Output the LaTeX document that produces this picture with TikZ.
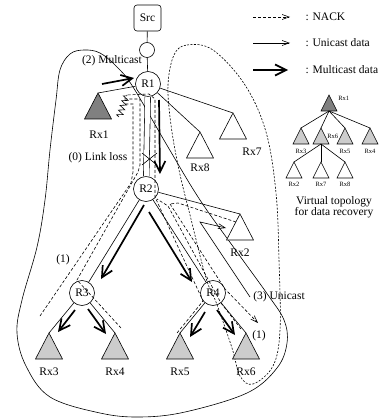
\documentclass[tikz,border=0pt]{standalone}
\usepackage{fontspec}
\setmainfont{Liberation Serif}
\usepackage{xcolor}
\usetikzlibrary{arrows.meta,decorations.pathmorphing}

\definecolor{rxdark}{gray}{0.5}
\definecolor{rxlight}{gray}{0.8}

% receiver triangle: name, apex, fill
\newcommand{\rxtri}[3]{\coordinate (#1) at (#2);
  \filldraw[fill=#3] (#1) -- ++(-13.5,26) -- ++(27,0) -- cycle;}
% small triangle of the virtual topology
\newcommand{\vtri}[3]{\coordinate (#1) at (#2);
  \path (#1) ++(0,16) coordinate (#1-b);
  \filldraw[fill=#3] (#1) -- ++(-8,16) -- ++(16,0) -- cycle;}

\begin{document}
\begin{tikzpicture}[x=1pt,y=-1pt,line width=0.6pt,
  every node/.style={font=\fontsize{11.5pt}{11.5pt}\selectfont},
  router/.style={draw,circle,minimum size=25pt,inner sep=0pt},
  srcbox/.style={draw,rounded corners=3pt,minimum width=27pt,minimum height=26pt,inner sep=0pt},
  vlabel/.style={font=\fontsize{6.5pt}{7pt}\selectfont,inner sep=1pt},
  mcast/.style={-{Straight Barb[length=11pt,width=11pt]},line width=1.7pt},
  ucast/.style={-{Straight Barb[length=7pt,width=5pt]}},
  nack/.style={dash pattern=on 3pt off 2pt},
  nackarrow/.style={nack,-{Straight Barb[length=7pt,width=5pt]}},
  zoneline/.style={dash pattern=on 2pt off 1.5pt}
]
\useasboundingbox (0,0) rectangle (380,419);

% recovery zones
\draw plot[smooth cycle,tension=0.6] coordinates {(133,87) (168,147) (200,200) (237,252) (268,295)
  (284,320) (287,343) (277,368) (247,393) (185,412) (140,417) (100,413) (50,397) (26,366)
  (17,333) (22,300) (37,247) (45,200) (50,150) (56,100) (60,70) (70,54) (84,50) (100,53) (117,67)};
\draw[zoneline] plot[smooth cycle,tension=0.6] coordinates {(174,55) (187,45) (213,50) (245,85)
  (266,132) (276,193) (279,260) (280,330) (273,366) (253,384) (240,376) (232,348) (216,302)
  (206,278) (190,215) (179,170) (171,125) (168,85)};

% routers
\node[srcbox] (src) at (147.5,18) {Src};
\node[draw,circle,minimum size=15pt,inner sep=0pt] (hop) at (147,50) {};
\node[router] (R1) at (148,84) {R1};
\node[router] (R2) at (146,189) {R2};
\node[router] (R3) at (82,293) {R3};
\node[router] (R4) at (213,293) {R4};

% receivers
\rxtri{rx1}{98,93}{rxdark}
\rxtri{rx3}{49,333}{rxlight}
\rxtri{rx4}{115,333}{rxlight}
\rxtri{rx5}{180,333}{rxlight}
\rxtri{rx6}{246,333}{rxlight}
\rxtri{rx7}{233,113}{white}
\rxtri{rx8}{200,132}{white}
\rxtri{rx2}{240,214}{white}

% links
\draw (src) -- (hop) -- (R1);
\draw[double distance=5pt] (R1) -- (R2);
\draw (R1) -- (rx1);
\draw (R1) -- (rx7);
\draw (R1) -- (rx8);
\draw (R2) -- (R3);
\draw (R2) -- (R4);
\draw (R2) -- (rx2);
\draw (R3) -- (rx3);
\draw (R3) -- (rx4);
\draw (R4) -- (rx5);
\draw (R4) -- (rx6);

% link loss
\draw (142,153) -- (157,165) (142,165) -- (157,153);
\draw[decorate,decoration={zigzag,segment length=5pt,amplitude=3pt}] (119,117) -- (127,95);

% NACKs
\draw[nack] (40,316) -- (131,183) -- (133,172) -- (133,104) -- (123,104);
\draw[nack] (121,328) -- (77,280) -- (138,172) -- (140,165) -- (140,99) -- (123,99);
\draw[nack] (177,333) -- (203,301) -- (161,210) -- (155,197) -- (155,99) -- (149,94) -- (126,95);
\draw[nack] (241,329) -- (221,303) -- (168,206) -- (157,199);
\draw[nack] (236,222) -- (178,203) -- (170,204);
\draw[nackarrow] (170,204) -- (225,289) -- (258,323);

% data
\draw[mcast] (102,84) -- (134,78);
\draw[mcast] (159,100) -- (160,174);
\draw[mcast] (144,205) -- (101,279);
\draw[mcast] (149,212) -- (192,282);
\draw[mcast] (75,310) -- (58,332);
\draw[mcast] (88,309) -- (106,334);
\draw[mcast] (205,312) -- (190,337);
\draw[mcast] (217,310) -- (235,335);
\draw[ucast] (250,297) -- (200,222) -- (226,228);

% labels
\node (lbl-mcast) at (112,61) {(2) Multicast};
\node[anchor=east] (lbl-loss) at (131,158) {(0) Link loss};
\node (lbl-n1) at (63,260) {(1)};
\node (lbl-n2) at (259,336) {(1)};
\node (lbl-ucast) at (279,297) {(3) Unicast};
\node (lrx1) at (99,135) {Rx1};
\node (lrx3) at (49,372) {Rx3};
\node (lrx4) at (115,372) {Rx4};
\node (lrx5) at (180,372) {Rx5};
\node (lrx6) at (246,372) {Rx6};
\node (lrx7) at (252,152) {Rx7};
\node (lrx8) at (200,168) {Rx8};
\node (lrx2) at (240,253) {Rx2};

% legend
\node[anchor=west] (key-nack) at (302,17) {: NACK};
\node[anchor=west] (key-ucast) at (302,43) {: Unicast data};
\node[anchor=west] (key-mcast) at (302,70) {: Multicast data};
\draw[nackarrow] ([xshift=-49pt]key-nack.west) -- ([xshift=-12pt]key-nack.west);
\draw[ucast] ([xshift=-49pt]key-ucast.west) -- ([xshift=-12pt]key-ucast.west);
\draw[mcast] ([xshift=-49pt]key-mcast.west) -- ([xshift=-14pt]key-mcast.west);

% virtual topology
\vtri{v1}{329,95}{rxdark}
\vtri{v3}{301,128}{rxlight}
\vtri{v6}{321,128}{rxlight}
\vtri{v5}{345,128}{rxlight}
\vtri{v4}{370,128}{rxlight}
\vtri{v2}{294,162}{white}
\vtri{v7}{321,162}{white}
\vtri{v8}{345,162}{white}
\draw (v1-b) -- (v3);
\draw (v1-b) -- (v6);
\draw (v1-b) -- (v5);
\draw (v1-b) -- (v4);
\draw (v6-b) -- (v2);
\draw (v6-b) -- (v7);
\draw (v6-b) -- (v8);
\node[vlabel,anchor=west] (lv1) at (337,98) {Rx1};
\node[vlabel,anchor=west] (lv6) at (326,136) {Rx6};
\node[vlabel] (lv3) at (301,151) {Rx3};
\node[vlabel] (lv5) at (345,151) {Rx5};
\node[vlabel] (lv4) at (370,151) {Rx4};
\node[vlabel] (lv2) at (294,184) {Rx2};
\node[vlabel] (lv7) at (321,184) {Rx7};
\node[vlabel] (lv8) at (345,184) {Rx8};
\node[align=center] (vcap) at (334,207.5) {Virtual topology\\for data recovery};
\end{tikzpicture}
\end{document}
